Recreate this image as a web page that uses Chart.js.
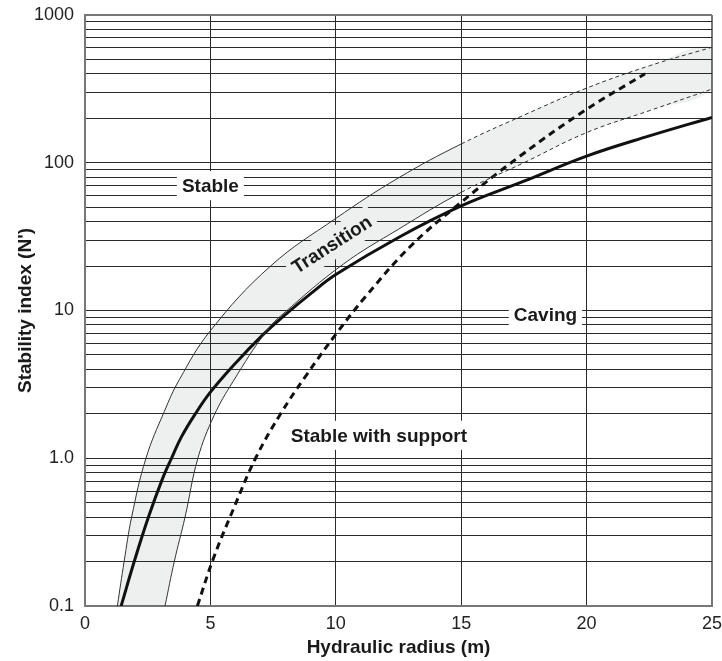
<!DOCTYPE html>
<html>
<head>
<meta charset="utf-8">
<script src="https://cdn.jsdelivr.net/npm/chart.js@4.4.1/dist/chart.umd.min.js"></script>
<style>
  html, body { margin: 0; padding: 0; background: #fff; }
  #wrap { width: 722px; height: 661px; }
</style>
</head>
<body>
<div id="wrap"><canvas id="chart-stability"></canvas></div>
<script>
// Dados (raio hidráulico x índice de estabilidade)

// limite superior da zona de transição
const upperX = [1.29, 1.56, 1.86, 2.43, 3.16, 3.76, 5.0, 7.4, 10, 12.5, 15, 17.5, 20, 22.5, 25];
const upperY = [0.1, 0.2, 0.4, 1.0, 2.07, 3.4, 7.3, 20, 42, 79, 134, 210, 320, 453, 605];

// limite inferior da zona de transição
const lowerX = [3.19, 3.56, 3.99, 4.5, 5.15, 5.9, 7.24, 7.9, 10.3, 12.5, 15, 17.5, 20, 22.5, 25];
const lowerY = [0.1, 0.2, 0.4, 1.0, 1.95, 3.3, 7.3, 9.5, 20.6, 35.5, 63, 100, 160, 225, 315];

// linha cheia grossa
const solidX = [1.44, 1.99, 2.53, 3.08, 3.45, 3.85, 4.4, 5.0, 6.0, 7.0, 8.0, 9.0, 10, 12.5, 15, 17.5, 20, 22.5, 25];
const solidY = [0.1, 0.207, 0.4, 0.72, 1.0, 1.4, 2.0, 2.8, 4.4, 6.6, 9.4, 13, 17.5, 31.2, 51, 75, 111, 152, 203];

// linha tracejada grossa (estável com suporte)
const supportX = [4.48, 5.12, 5.91, 6.8, 7.8, 8.8, 10.0, 11.2, 12.96, 14.82, 17.35, 20, 22.33];
const supportY = [0.1, 0.21, 0.45, 1.0, 2.0, 3.6, 6.9, 12.5, 27, 51, 111, 230, 400];

const dashFrom = 15; // limites da transição ficam tracejados a partir daqui

const yTickValues = [0.1, 1, 10, 100, 1000];
const yTickLabels = ['0.1', '1.0', '10', '100', '1000'];

const zoneText = ['Stable', 'Transition', 'Caving', 'Stable with support'];
const zoneAt = [[5.0, 70], [9.84, 28], [18.36, 9.3], [11.72, 1.43]];
const zoneAngle = [0, -32.7, 0, 0];

function pts(xs, ys) {
    return xs.map(function (x, i) { return { x: x, y: ys[i] }; });
}

// grade logarítmica: 1..9 em cada década
const yGrid = [];
for (let d = 0.1; d < 999; d *= 10) {
    for (let m = 1; m <= 9; m++) yGrid.push(m * d);
}
yGrid.push(1000);

const tickFont = { family: "'Liberation Sans Narrow', 'Liberation Sans', Arial, sans-serif", size: 18 };
const titleFont = { family: "'Liberation Sans', Arial, sans-serif", size: 19, weight: 'bold' };

function drawZones(chart, boxes) {
    const ctx = chart.ctx;
    const sx = chart.scales.x, sy = chart.scales.y;
    ctx.save();
    ctx.font = "bold 19px 'Liberation Sans', Arial, sans-serif";
    ctx.textAlign = 'center';
    ctx.textBaseline = 'middle';
    zoneText.forEach(function (t, i) {
        ctx.save();
        ctx.translate(sx.getPixelForValue(zoneAt[i][0]), sy.getPixelForValue(zoneAt[i][1]));
        ctx.rotate(zoneAngle[i] * Math.PI / 180);
        if (boxes) {
            const w = ctx.measureText(t).width + 10;
            ctx.fillStyle = '#fff';
            ctx.fillRect(-w / 2, -14.5, w, 29);
        } else {
            ctx.fillStyle = '#1a1a1a';
            ctx.fillText(t, 0, 1);
        }
        ctx.restore();
    });
    ctx.restore();
}

const zoneLabels = {
    id: 'zoneLabels',
    beforeDatasetsDraw: function (chart) { drawZones(chart, true); },
    afterDatasetsDraw: function (chart) { drawZones(chart, false); }
};

const thinLine = {
    borderColor: '#333',
    borderWidth: 1,
    pointRadius: 0,
    tension: 0.4,
    fill: false,
    segment: {
        borderDash: function (c) { return c.p0.parsed.x >= dashFrom ? [4, 3] : undefined; }
    }
};

function isEdge(v, a, b) {
    return Math.abs(v - a) < a * 1e-6 || Math.abs(v - b) < b * 1e-6;
}

new Chart(document.getElementById('chart-stability'), {
    type: 'line',
    data: {
        datasets: [
            Object.assign({ label: 'Upper transition', data: pts(upperX, upperY) }, thinLine),
            Object.assign({ label: 'Lower transition', data: pts(lowerX, lowerY) }, thinLine),
            {
                label: 'Caving limit',
                data: pts(solidX, solidY),
                borderColor: '#111',
                borderWidth: 3,
                pointRadius: 0,
                tension: 0.4,
                fill: false
            },
            {
                label: 'Stable with support',
                data: pts(supportX, supportY),
                borderColor: '#111',
                borderWidth: 3,
                borderDash: [7, 5],
                pointRadius: 0,
                tension: 0.4,
                fill: false
            },
            {
                // faixa cinza da transição (contorno fechado)
                label: 'Transition zone',
                data: pts(upperX, upperY).concat(pts(lowerX, lowerY).reverse()),
                borderWidth: 0,
                borderColor: 'rgba(0,0,0,0)',
                backgroundColor: 'rgba(20, 30, 30, 0.07)',
                pointRadius: 0,
                tension: 0.4,
                fill: 'shape'
            }
        ]
    },
    options: {
        responsive: true,
        maintainAspectRatio: false,
        animation: false,
        events: [],
        layout: { padding: { top: 15, right: 10, left: 0, bottom: 0 } },
        plugins: {
            legend: { display: false },
            tooltip: { enabled: false }
        },
        scales: {
            x: {
                type: 'linear',
                min: 0,
                max: 25,
                afterFit: function (s) {
                    s.height = 55;
                    s.paddingLeft = 0;
                    s.paddingRight = 0;
                },
                ticks: { stepSize: 5, padding: 7, color: '#222', font: tickFont },
                grid: {
                    drawTicks: false,
                    color: function (c) { return (c.tick.value === 0 || c.tick.value === 25) ? '#777' : '#2b2b2b'; },
                    lineWidth: function (c) { return (c.tick.value === 0 || c.tick.value === 25) ? 2 : 1; }
                },
                border: { color: '#777', width: 2 },
                title: {
                    display: true,
                    text: 'Hydraulic radius (m)',
                    color: '#1a1a1a',
                    font: titleFont,
                    padding: { top: 0, bottom: 2 }
                }
            },
            y: {
                type: 'logarithmic',
                min: 0.1,
                max: 1000,
                afterFit: function (s) {
                    s.width = 85;
                    s.paddingTop = 0;
                    s.paddingBottom = 0;
                },
                afterBuildTicks: function (s) {
                    s.ticks = yGrid.map(function (v) { return { value: v }; });
                },
                ticks: {
                    autoSkip: false,
                    padding: 11,
                    color: '#222',
                    font: tickFont,
                    callback: function (v) {
                        const i = yTickValues.findIndex(function (t) { return Math.abs(t - v) < t * 1e-6; });
                        return i >= 0 ? yTickLabels[i] : '';
                    }
                },
                grid: {
                    drawTicks: false,
                    color: function (c) { return isEdge(c.tick.value, 0.1, 1000) ? '#777' : '#2b2b2b'; },
                    lineWidth: function (c) { return isEdge(c.tick.value, 0.1, 1000) ? 2 : 1; }
                },
                border: { color: '#777', width: 2 },
                title: {
                    display: true,
                    text: "Stability index (N')",
                    color: '#1a1a1a',
                    font: titleFont,
                    padding: { top: 14, bottom: 0 }
                }
            }
        }
    },
    plugins: [zoneLabels]
});
</script>
</body>
</html>
